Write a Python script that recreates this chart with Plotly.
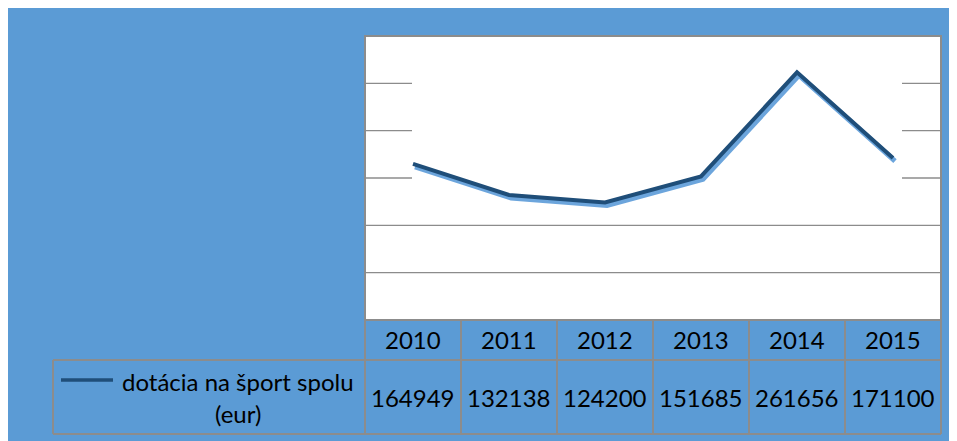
import plotly.graph_objects as go

# ---- data ----
years = ["2010", "2011", "2012", "2013", "2014", "2015"]
values = [164949, 132138, 124200, 151685, 261656, 171100]
series_name = "dotácia na šport spolu"
series_unit = "(eur)"
grid_vals = [50000, 100000, 150000, 200000, 250000]
y_max = 300000

OFF = 8  # page body margin
W, H = 957 - OFF, 441 - OFF
FONT = "Lato"
BLUE_BG = "#5B9BD5"
DARK = "#1F4E79"
GRID = "#8C8C8C"

def fx(p):
    return (p - OFF) / W

def fy(q):
    return 1 - (q - OFF) / H

# plot frame in page pixels
PL, PR, PT, PB = 365, 941, 36, 320
SDX, SDY = 2, 3  # shadow offset

fig = go.Figure()
# shadow line (subplot xy, shifted)
fig.add_trace(go.Scatter(x=years, y=values, mode="lines", xaxis="x", yaxis="y",
                         line=dict(color="rgba(100,160,218,0.95)", width=5),
                         hoverinfo="skip", showlegend=False))
# main line (subplot x2y2)
fig.add_trace(go.Scatter(x=years, y=values, mode="lines", xaxis="x2", yaxis="y2",
                         name=series_name,
                         line=dict(color=DARK, width=4), showlegend=False))

ax_common = dict(visible=False, showgrid=False, zeroline=False)
fig.update_layout(
    width=W, height=H,
    margin=dict(l=0, r=0, t=0, b=0, autoexpand=False),
    paper_bgcolor=BLUE_BG,
    plot_bgcolor="rgba(0,0,0,0)",
    xaxis=dict(domain=[fx(PL + SDX), fx(PR + SDX)], type="category",
               range=[-0.5, len(years) - 0.5], anchor="y", **ax_common),
    yaxis=dict(domain=[fy(PB + SDY), fy(PT + SDY)], range=[0, y_max],
               anchor="x", **ax_common),
    xaxis2=dict(domain=[fx(PL), fx(PR)], type="category",
                range=[-0.5, len(years) - 0.5], anchor="y2", **ax_common),
    yaxis2=dict(domain=[fy(PB), fy(PT)], range=[0, y_max],
                anchor="x2", **ax_common),
    showlegend=False,
)

shapes = []
# plot area
shapes.append(dict(type="rect", xref="paper", yref="paper", layer="below",
                   x0=fx(PL), x1=fx(PR), y0=fy(PB), y1=fy(PT),
                   fillcolor="white", line_width=0))
# gridlines (upper ones only partially visible, as in the reference)
for g in grid_vals:
    if g <= 100000:
        segs = [(PL, PR)]
    else:
        segs = [(PL, 412), (902, PR)]
    for a, b in segs:
        shapes.append(dict(type="line", xref="paper", yref="y2", layer="below",
                           x0=fx(a), x1=fx(b), y0=g, y1=g,
                           line=dict(color=GRID, width=1.3)))
# plot border
shapes.append(dict(type="rect", xref="paper", yref="paper", layer="below",
                   x0=fx(PL), x1=fx(PR), y0=fy(PB), y1=fy(PT),
                   line=dict(color=GRID, width=2), fillcolor="rgba(0,0,0,0)"))
# data table grid
ROW1_B, ROW2_B, LEG_L = 360, 434, 53
colw = (PR - PL) / len(years)
tline = dict(color=GRID, width=2)
shapes.append(dict(type="line", xref="paper", yref="paper", x0=fx(LEG_L), x1=fx(PR),
                   y0=fy(ROW1_B), y1=fy(ROW1_B), line=tline))
shapes.append(dict(type="line", xref="paper", yref="paper", x0=fx(LEG_L), x1=fx(PR),
                   y0=fy(ROW2_B), y1=fy(ROW2_B), line=tline))
shapes.append(dict(type="line", xref="paper", yref="paper", x0=fx(LEG_L), x1=fx(LEG_L),
                   y0=fy(ROW1_B), y1=fy(ROW2_B), line=tline))
for i in range(len(years) + 1):
    xp = PL + i * colw
    shapes.append(dict(type="line", xref="paper", yref="paper", x0=fx(xp), x1=fx(xp),
                       y0=fy(PB), y1=fy(ROW2_B), line=tline))
# legend key line
shapes.append(dict(type="line", xref="paper", yref="paper", x0=fx(61), x1=fx(113),
                   y0=fy(380), y1=fy(380), line=dict(color=DARK, width=3.5)))
fig.update_layout(shapes=shapes)

tfont = dict(family=FONT, size=24, color="black")
ann = []
for i, (yr, v) in enumerate(zip(years, values)):
    ann.append(dict(xref="x2", yref="paper", x=i, y=fy(339), text=yr,
                    showarrow=False, font=tfont, xanchor="center", yanchor="middle"))
    ann.append(dict(xref="x2", yref="paper", x=i, y=fy(397), text=str(v),
                    showarrow=False, font=tfont, xanchor="center", yanchor="middle"))
ann.append(dict(xref="paper", yref="paper", x=fx(238), y=fy(381), text=series_name,
                showarrow=False, font=tfont, xanchor="center", yanchor="middle"))
ann.append(dict(xref="paper", yref="paper", x=fx(238), y=fy(413), text=series_unit,
                showarrow=False, font=tfont, xanchor="center", yanchor="middle"))
fig.update_layout(annotations=ann)

fig.write_html("out.html")
